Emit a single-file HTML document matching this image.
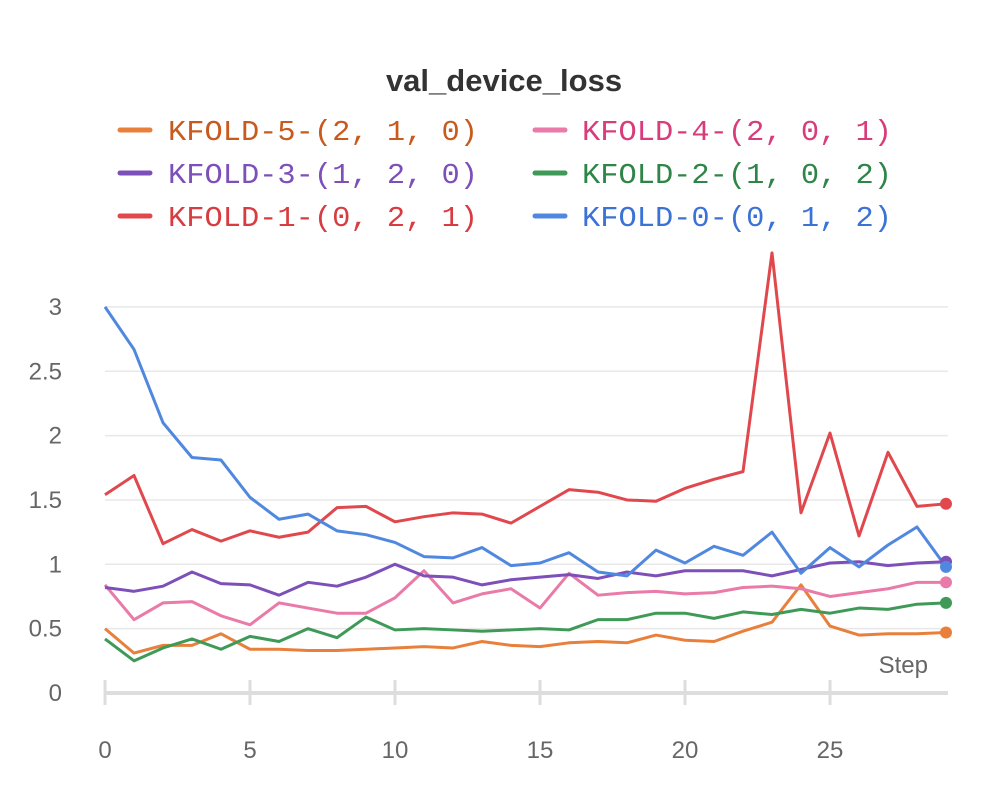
<!DOCTYPE html>
<html><head><meta charset="utf-8"><style>
body{margin:0;background:#fff;width:1008px;height:783px;overflow:hidden}
svg text{font-family:"Liberation Sans",sans-serif}
.mono{font-family:"Liberation Mono","DejaVu Sans Mono",monospace;font-size:29px}
</style></head><body>
<svg width="1008" height="783">
<defs><clipPath id="pc"><rect x="90" y="245" width="870" height="460"/></clipPath></defs>
<text x="504" y="91" text-anchor="middle" font-size="31" font-weight="bold" fill="#333">val_device_loss</text>
<g id="legend"></g>
<g id="grid"></g><g id="axes"></g><g id="lines" clip-path="url(#pc)"></g><g id="dots"></g>
<text x="928" y="673" text-anchor="end" font-size="24" fill="#666">Step</text>
</svg>
<script>
const steps=[...Array(30).keys()];
const yTicks=[0,0.5,1,1.5,2,2.5,3];
const yTickLabels=["0","0.5","1","1.5","2","2.5","3"];
const xTicks=[0,5,10,15,20,25];
const names=["KFOLD-5-(2, 1, 0)","KFOLD-4-(2, 0, 1)","KFOLD-3-(1, 2, 0)","KFOLD-2-(1, 0, 2)","KFOLD-1-(0, 2, 1)","KFOLD-0-(0, 1, 2)"];
const colors=["#e8803c","#ea7aa8","#7d4fb9","#3f9a58","#e0484d","#5088e0"];
const textColors=["#c85a1e","#d83c7a","#7d4fb9","#2e8548","#d83c40","#3a72d6"];
const s5=[0.50,0.31,0.37,0.37,0.46,0.34,0.34,0.33,0.33,0.34,0.35,0.36,0.35,0.40,0.37,0.36,0.39,0.40,0.39,0.45,0.41,0.40,0.48,0.55,0.84,0.52,0.45,0.46,0.46,0.47];
const s4=[0.84,0.57,0.70,0.71,0.60,0.53,0.70,0.66,0.62,0.62,0.74,0.95,0.70,0.77,0.81,0.66,0.93,0.76,0.78,0.79,0.77,0.78,0.82,0.83,0.81,0.75,0.78,0.81,0.86,0.86];
const s3=[0.82,0.79,0.83,0.94,0.85,0.84,0.76,0.86,0.83,0.90,1.00,0.91,0.90,0.84,0.88,0.90,0.92,0.89,0.94,0.91,0.95,0.95,0.95,0.91,0.96,1.01,1.02,0.99,1.01,1.02];
const s2=[0.42,0.25,0.35,0.42,0.34,0.44,0.40,0.50,0.43,0.59,0.49,0.50,0.49,0.48,0.49,0.50,0.49,0.57,0.57,0.62,0.62,0.58,0.63,0.61,0.65,0.62,0.66,0.65,0.69,0.70];
const s1=[1.54,1.69,1.16,1.27,1.18,1.26,1.21,1.25,1.44,1.45,1.33,1.37,1.40,1.39,1.32,1.45,1.58,1.56,1.50,1.49,1.59,1.66,1.72,3.42,1.40,2.02,1.22,1.87,1.45,1.47];
const s0=[3.00,2.67,2.10,1.83,1.81,1.52,1.35,1.39,1.26,1.23,1.17,1.06,1.05,1.13,0.99,1.01,1.09,0.94,0.91,1.11,1.01,1.14,1.07,1.25,0.93,1.13,0.98,1.15,1.29,0.98];
const series=[s5,s4,s3,s2,s1,s0];
const X=v=>105+v*29.0, Y=v=>693-v*128.7;
const NS="http://www.w3.org/2000/svg";
function mk(t,a,p){const e=document.createElementNS(NS,t);for(const k in a)e.setAttribute(k,a[k]);p.appendChild(e);return e;}
const grid=document.getElementById('grid'),axes=document.getElementById('axes');
yTicks.forEach((v,i)=>{
 if(v>0){const l=mk('line',{x1:105,x2:948,y1:Y(v),y2:Y(v),stroke:'#e8e8e8','stroke-width':1.5},grid);
 
 }
 const t=mk('text',{x:62,y:Y(v)+8,'text-anchor':'end','font-size':24,fill:'#666'},axes);t.textContent=yTickLabels[i];
 
 
});
const ax=mk('line',{x1:105,x2:948,y1:693,y2:693,stroke:'#ddd','stroke-width':4},axes);


xTicks.forEach(v=>{
 mk('line',{x1:X(v),x2:X(v),y1:680,y2:705,stroke:'#ddd','stroke-width':3},axes);
 const t=mk('text',{x:X(v),y:758,'text-anchor':'middle','font-size':24,fill:'#666'},axes);t.textContent=v;
 
 
});
const lines=document.getElementById('lines'),dots=document.getElementById('dots'),leg=document.getElementById('legend');
series.forEach((s,i)=>{
 const p=mk('polyline',{points:s.map((v,j)=>X(steps[j])+','+Y(v)).join(' '),fill:'none',stroke:colors[i],'stroke-width':3,'stroke-linejoin':'round'},lines);
 
 
 const c=mk('circle',{cx:X(29),cy:Y(s[29]),r:6,fill:colors[i]},dots);
 
 
 const col=i%2,row=Math.floor(i/2);
 const lx=col?535:120, ly=130+row*43;
 const g=mk('g',{},leg);
 
 
 mk('line',{x1:lx,x2:lx+30,y1:ly,y2:ly,stroke:colors[i],'stroke-width':5,'stroke-linecap':'round'},g);
 const t=mk('text',{x:col?582:168,y:ly+10,fill:textColors[i],class:'mono',textLength:310,lengthAdjust:'spacingAndGlyphs'},g);t.textContent=names[i];
});
</script>
</body></html>
